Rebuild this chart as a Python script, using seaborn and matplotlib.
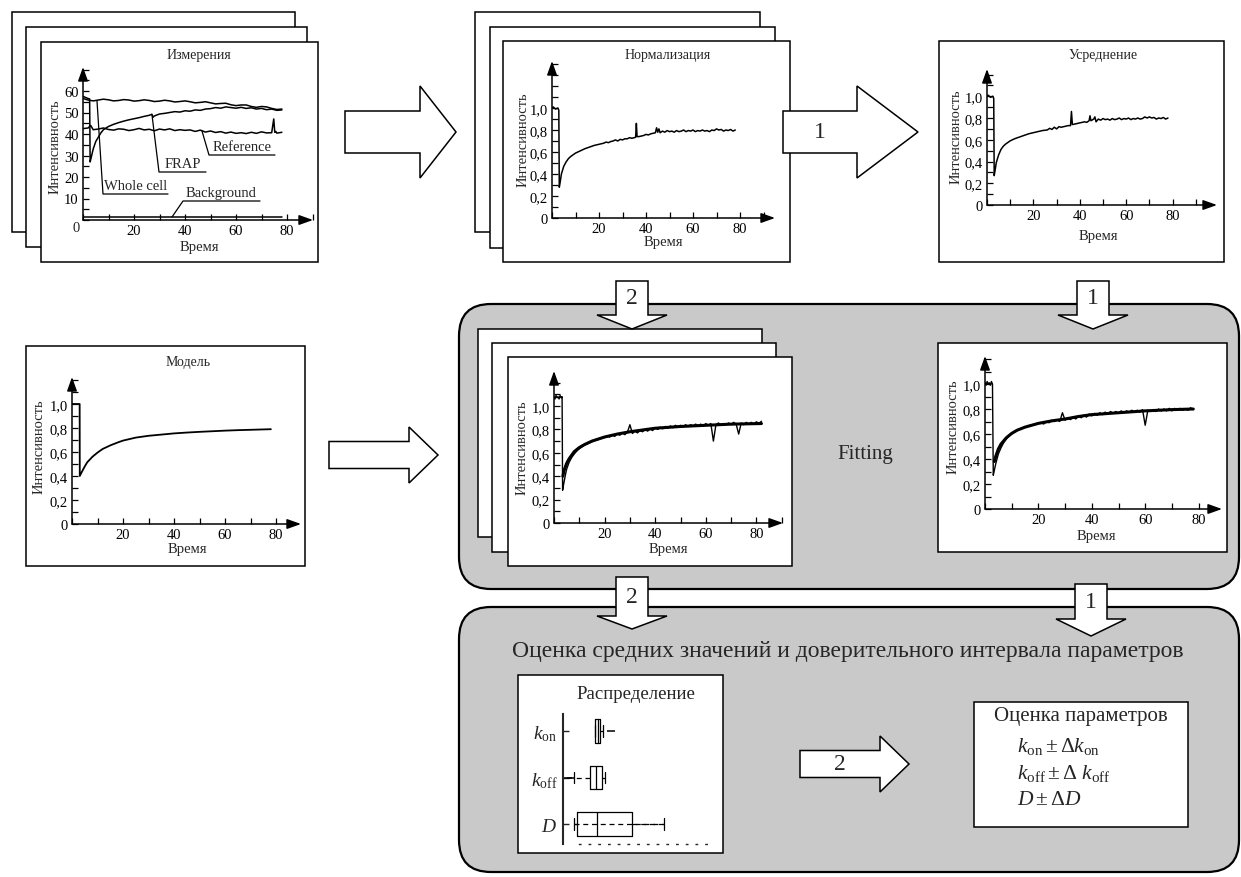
import numpy as np
import pandas as pd
import matplotlib
matplotlib.use("Agg")
import matplotlib.pyplot as plt
import seaborn as sns
from matplotlib.patches import Rectangle, FancyBboxPatch, Polygon
from matplotlib.ticker import FixedLocator, MultipleLocator, FuncFormatter
from matplotlib import cbook

W, H = 1241, 878
GRAY = "#c9c9c9"

# --- Измерения (сырые кривые) ---
wc_t = [0, 2, 4, 6, 8, 10, 12, 14, 16, 18, 20, 22, 24, 26, 28, 30, 32, 34, 36, 38,
        40, 42, 44, 46, 48, 50, 52, 54, 56, 58, 60, 62, 64, 66, 68, 70, 72, 74, 76, 78]
wc_v = [56.5, 55.8, 55.4, 55.8, 56.2, 55.9, 55.4, 55.6, 56.0, 55.8, 55.3, 55.5, 55.9, 55.6,
        55.1, 55.3, 55.7, 55.4, 54.9, 55.1, 55.4, 55.0, 54.5, 54.7, 55.0, 54.5, 54.0, 54.2,
        54.3, 53.6, 53.2, 53.5, 53.5, 52.8, 52.4, 52.8, 52.6, 51.9, 51.4, 51.6]
frap_t = [0, 1, 2, 2.6, 2.8, 3.2, 4, 5, 6, 7, 8, 10, 12, 14, 16, 18, 20, 22, 24, 26, 27,
          27.5, 28, 30, 32, 34, 36, 38, 40, 42, 44, 46, 48, 50, 52, 54, 56, 58, 60, 62,
          64, 66, 68, 70, 72, 74, 76, 78]
frap_v = [57.5, 57.0, 56.5, 56.3, 27.0, 29.0, 33.0, 36.5, 38.5, 40.5, 42.0, 43.5, 44.5,
          45.3, 46.0, 46.6, 47.1, 47.6, 48.2, 48.7, 49.2, 47.8, 48.4, 49.3, 49.6, 50.0,
          50.4, 50.2, 50.8, 50.6, 51.2, 51.0, 51.6, 51.8, 52.3, 52.0, 52.6, 52.3, 52.0,
          52.4, 51.9, 52.2, 51.6, 51.9, 51.3, 51.6, 51.0, 51.2]
ref_t = [0, 2, 3, 4, 6, 8, 10, 12, 14, 16, 18, 20, 22, 24, 26, 28, 30, 32, 34, 36, 38,
         40, 42, 44, 46, 48, 50, 52, 54, 56, 58, 60, 62, 64, 66, 68, 70, 72, 74, 74.8,
         75.2, 75.6, 76, 78]
ref_v = [42.5, 42.8, 44.0, 42.0, 42.3, 42.8, 42.1, 41.8, 42.4, 42.2, 41.6, 42.0, 42.6,
         41.9, 42.2, 41.5, 42.3, 41.9, 42.4, 41.6, 42.0, 41.7, 41.9, 41.2, 41.8, 40.9,
         41.4, 40.7, 41.1, 40.4, 40.9, 40.3, 40.6, 40.2, 40.8, 40.3, 41.0, 40.5, 40.6,
         47.0, 40.8, 41.2, 40.4, 40.8]
bgr_t = [0, 78]
bgr_v = [1.5, 1.5]

# --- Нормализация ---
norm_t = [0, 0.5, 1.5, 2.5, 2.9, 3.1, 3.5, 4, 5, 6, 7, 8, 9, 10, 12, 14, 16, 18, 20, 22,
          23, 24, 25, 26, 27, 28, 29, 30, 31, 32, 33, 34, 35, 35.6, 35.9, 36.2, 37, 38,
          39, 40, 41, 42, 43, 44, 44.5, 45, 45.5, 46, 47, 48, 49, 50, 51, 52, 53, 54, 55,
          56, 57, 58, 59, 60, 61, 62, 63, 64, 65, 66, 67, 68, 69, 70, 71, 72, 73, 74, 75,
          76, 77, 78]
norm_v = [1.00, 1.01, 0.99, 1.00, 0.98, 0.28, 0.33, 0.40, 0.47, 0.51, 0.54, 0.56, 0.575,
          0.59, 0.61, 0.63, 0.645, 0.66, 0.67, 0.68, 0.69, 0.685, 0.695, 0.70, 0.71, 0.70,
          0.715, 0.71, 0.72, 0.72, 0.73, 0.725, 0.73, 0.735, 0.86, 0.74, 0.74, 0.745,
          0.75, 0.76, 0.755, 0.765, 0.77, 0.775, 0.82, 0.78, 0.81, 0.775, 0.79, 0.78,
          0.795, 0.785, 0.79, 0.78, 0.795, 0.785, 0.79, 0.80, 0.785, 0.795, 0.79, 0.80,
          0.785, 0.795, 0.79, 0.80, 0.79, 0.795, 0.785, 0.80, 0.795, 0.81, 0.80, 0.805,
          0.79, 0.80, 0.795, 0.805, 0.79, 0.80]

# --- Усреднение ---
avg_t = [0, 0.5, 1.5, 2.5, 2.9, 3.1, 3.5, 4, 5, 6, 7, 8, 10, 12, 14, 16, 18, 20, 22, 24,
         26, 27, 28, 29, 30, 31, 32, 34, 35, 36, 36.4, 36.8, 38, 40, 42, 43, 44, 44.4,
         44.8, 46, 46.5, 47, 48, 49, 50, 51, 52, 53, 54, 55, 56, 57, 58, 59, 60, 61, 62,
         63, 64, 65, 66, 67, 68, 69, 70, 71, 72, 73, 74, 75, 76, 77, 78]
avg_v = [1.00, 1.01, 0.99, 1.00, 0.98, 0.27, 0.32, 0.39, 0.46, 0.51, 0.54, 0.56, 0.59,
         0.61, 0.625, 0.64, 0.655, 0.665, 0.675, 0.685, 0.69, 0.705, 0.695, 0.715, 0.70,
         0.72, 0.715, 0.725, 0.73, 0.73, 0.86, 0.74, 0.745, 0.755, 0.765, 0.76, 0.775,
         0.82, 0.775, 0.79, 0.81, 0.765, 0.79, 0.78, 0.795, 0.785, 0.79, 0.78, 0.795,
         0.785, 0.79, 0.80, 0.785, 0.795, 0.79, 0.80, 0.785, 0.795, 0.79, 0.80, 0.79,
         0.795, 0.81, 0.80, 0.81, 0.80, 0.805, 0.79, 0.80, 0.795, 0.805, 0.79, 0.80]

# --- Модель ---
model_t = [0, 3.0, 3.05, 4, 5, 6, 8, 10, 12, 15, 18, 20, 25, 30, 35, 40, 45, 50, 55, 60,
           65, 70, 78]
model_v = [1.0, 1.0, 0.40, 0.44, 0.48, 0.515, 0.56, 0.595, 0.625, 0.655, 0.68, 0.695,
           0.72, 0.735, 0.745, 0.755, 0.762, 0.768, 0.773, 0.778, 0.782, 0.785, 0.79]

# --- Fitting: серия экспериментов (слева) ---
fitL_data_t = [0, 0.4, 0.8, 1.2, 1.6, 2.0, 2.4, 2.8, 3.2, 3.4, 3.8, 4.5, 5, 6, 7, 8, 9,
               10, 11, 12, 13, 14, 15, 16, 17, 18, 19, 20] + list(range(21, 83))
fitL_data_v = [1.08, 1.06, 1.09, 1.07, 1.08, 1.06, 1.09, 1.07, 1.08, 0.28, 0.33, 0.41,
               0.46, 0.52, 0.56, 0.59, 0.615, 0.635, 0.65, 0.665, 0.675, 0.685, 0.695,
               0.705, 0.71, 0.72, 0.725, 0.735,
               0.745, 0.735, 0.755, 0.74, 0.765, 0.75, 0.77, 0.755, 0.775, 0.84, 0.765,
               0.785, 0.77, 0.79, 0.78, 0.80, 0.785, 0.805, 0.79, 0.815, 0.80, 0.82,
               0.805, 0.825, 0.81, 0.83, 0.815, 0.835, 0.82, 0.835, 0.82, 0.84, 0.825,
               0.84, 0.83, 0.845, 0.83, 0.845, 0.83, 0.85, 0.835, 0.85, 0.70, 0.84,
               0.855, 0.835, 0.85, 0.84, 0.855, 0.84, 0.86, 0.845, 0.76, 0.855, 0.84,
               0.86, 0.845, 0.86, 0.845, 0.865, 0.85, 0.87]
fitL_model_t = [3.5, 4, 5, 6, 8, 10, 12, 15, 20, 25, 30, 35, 40, 50, 60, 70, 82]
fitL_model_v = [0.40, 0.45, 0.51, 0.55, 0.61, 0.645, 0.67, 0.70, 0.735, 0.76, 0.78,
                0.795, 0.81, 0.825, 0.835, 0.845, 0.85]

# --- Fitting: усреднённая кривая (справа) ---
fitR_data_t = [0, 0.4, 0.8, 1.2, 1.6, 2.0, 2.4, 2.8, 3.1, 3.5, 4, 5, 6, 7, 8, 9, 10, 11,
               12, 13, 14, 15, 16, 17, 18, 19, 20] + list(range(21, 79))
fitR_data_v = [1.01, 0.99, 1.02, 1.0, 1.01, 0.99, 1.02, 1.0, 0.27, 0.31, 0.36, 0.44,
               0.49, 0.53, 0.56, 0.585, 0.60, 0.615, 0.63, 0.64, 0.65, 0.655, 0.665,
               0.67, 0.675, 0.68, 0.685,
               0.69, 0.68, 0.70, 0.69, 0.71, 0.70, 0.715, 0.70, 0.77, 0.71, 0.73, 0.715,
               0.735, 0.72, 0.745, 0.73, 0.75, 0.735, 0.76, 0.745, 0.765, 0.75, 0.77,
               0.755, 0.775, 0.76, 0.78, 0.765, 0.78, 0.765, 0.785, 0.77, 0.785, 0.775,
               0.79, 0.775, 0.79, 0.775, 0.795, 0.67, 0.79, 0.78, 0.795, 0.78, 0.80,
               0.785, 0.80, 0.785, 0.805, 0.785, 0.805, 0.79, 0.805, 0.79, 0.80, 0.79,
               0.81, 0.795]
fitR_model_t = [3.5, 4, 5, 6, 8, 10, 12, 15, 20, 25, 30, 35, 40, 50, 60, 70, 78]
fitR_model_v = [0.38, 0.42, 0.48, 0.52, 0.57, 0.605, 0.63, 0.655, 0.685, 0.705, 0.72,
                0.74, 0.755, 0.77, 0.785, 0.795, 0.80]

# --- Распределение параметров ---
param_labels = [r"$k_{\rm on}$", r"$k_{\rm off}$", r"$D$"]
kon_samples = [21.0, 21.0, 21.0, 22.0, 23.0, 23.8, 24.6, 26.3, 31.6]
koff_samples = [3.3, 5.5, 7.2, 17.8, 19.0, 20.5, 21.7, 23.0, 24.5, 25.7, 26.5, 27.0, 27.6]
d_samples = [7.2, 8.0, 9.2, 15.0, 22.4, 35.0, 45.4, 55.0, 66.4]

sns.set_style("white")
plt.rcParams["font.family"] = ["Liberation Serif", "DejaVu Serif"]
plt.rcParams["mathtext.fontset"] = "custom"
plt.rcParams["mathtext.rm"] = "Liberation Serif"
plt.rcParams["mathtext.it"] = "Liberation Serif:italic"
plt.rcParams["mathtext.bf"] = "Liberation Serif:bold"

fig = plt.figure(figsize=(W / 100, H / 100), dpi=100)
bg = fig.add_axes([0, 0, 1, 1], zorder=0)
fg = fig.add_axes([0, 0, 1, 1], zorder=10)
for a in (bg, fg):
    a.set_xlim(0, W)
    a.set_ylim(H, 0)
    a.axis("off")
fg.patch.set_alpha(0)


def frame(x0, y0, x1, y1, z=1):
    bg.add_patch(Rectangle((x0, y0), x1 - x0, y1 - y0, fc="white", ec="k", lw=1.1, zorder=z))


def rbox(x0, y0, x1, y1):
    bg.add_patch(FancyBboxPatch((x0, y0), x1 - x0, y1 - y0,
                                boxstyle="round,pad=0,rounding_size=32",
                                fc=GRAY, ec="k", lw=1.6, zorder=0.5))


def arrow_right(x0, x1, x2, yc, bh, hh, label=None, fs=17):
    pts = [(x0, yc - bh), (x1, yc - bh), (x1, yc - hh), (x2, yc),
           (x1, yc + hh), (x1, yc + bh), (x0, yc + bh)]
    bg.add_patch(Polygon(pts, closed=True, fc="white", ec="k", lw=1.1, zorder=3))
    if label:
        fg.text((x0 + x1) / 2, yc, label, ha="center", va="center", fontsize=fs)


def arrow_down(xc, y0, y1, y2, bw, hw, label=None, fs=17):
    pts = [(xc - bw, y0), (xc - bw, y1), (xc - hw, y1), (xc, y2),
           (xc + hw, y1), (xc + bw, y1), (xc + bw, y0)]
    bg.add_patch(Polygon(pts, closed=True, fc="white", ec="k", lw=1.1, zorder=3))
    if label:
        fg.text(xc, (y0 + y1) / 2, label, ha="center", va="center", fontsize=fs)


def mini(ox, oy, tx, ty, sx, sy, yticks, yminor, zero=True):
    ax = fig.add_axes([ox / W, 1 - oy / H, (tx - ox) / W, (oy - ty) / H], zorder=2)
    ax.patch.set_alpha(0)
    ax.set_xlim(0, (tx - ox) / sx)
    ax.set_ylim(0, (oy - ty) / sy)
    for s in ax.spines.values():
        s.set_visible(False)
    ap = dict(arrowstyle="-|>,head_length=0.7,head_width=0.25", color="k", lw=1.1,
              shrinkA=0, shrinkB=0, mutation_scale=12)
    ax.annotate("", xy=(1.0, 0), xytext=(0, 0), xycoords="axes fraction", arrowprops=ap)
    ax.annotate("", xy=(0, 1.0), xytext=(0, 0), xycoords="axes fraction", arrowprops=ap)
    ax.xaxis.set_major_locator(FixedLocator([0, 20, 40, 60, 80]))
    ax.xaxis.set_minor_locator(MultipleLocator(10))
    ax.yaxis.set_major_locator(FixedLocator(yticks))
    ax.yaxis.set_minor_locator(MultipleLocator(yminor))
    ax.xaxis.set_major_formatter(FuncFormatter(lambda v, p: "" if abs(v) < 1e-9 else f"{v:.0f}"))
    if yticks[-1] > 5:
        ax.yaxis.set_major_formatter(FuncFormatter(
            lambda v, p: ("0" if zero else "") if abs(v) < 1e-9 else f"{v:.0f}"))
    else:
        ax.yaxis.set_major_formatter(FuncFormatter(
            lambda v, p: "0" if abs(v) < 1e-9 else f"{v:.1f}".replace(".", ",")))
    ax.tick_params(which="both", direction="in", length=4, width=0.9, labelsize=10.5,
                   pad=3, colors="k", bottom=True, left=True)
    ax.set_xlabel("")
    ax.set_ylabel("")
    return ax


def curve(ax, t, v, lw=1.1):
    sns.lineplot(x=t, y=v, estimator=None, sort=False, color="k", linewidth=lw, ax=ax)
    ax.set_xlabel("")
    ax.set_ylabel("")


norm_ticks = [0, 0.2, 0.4, 0.6, 0.8, 1.0]

# ---------------- фоновые рамки ----------------
rbox(459, 305, 1239, 590)
rbox(459, 608, 1239, 873)

frame(12, 13, 295, 233, 1.0)
frame(26, 28, 307, 248, 1.1)
frame(41, 43, 318, 263, 1.2)
frame(475, 13, 760, 233, 1.0)
frame(490, 28, 775, 249, 1.1)
frame(503, 42, 790, 263, 1.2)
frame(939, 42, 1224, 263)
frame(26, 347, 305, 567)
frame(478, 330, 762, 538, 1.0)
frame(492, 344, 776, 553, 1.1)
frame(508, 358, 792, 567, 1.2)
frame(938, 344, 1227, 553)
frame(518, 676, 723, 854)
frame(974, 703, 1188, 828)

# ---------------- стрелки ----------------
arrow_right(345, 420, 456, 133, 21, 46)
arrow_right(783, 857, 918, 133, 21, 46, "1")
arrow_down(632, 282, 316, 330, 16, 35, "2")
arrow_down(1093, 282, 316, 330, 16, 35, "1")
arrow_right(329, 409, 438, 456, 13.5, 28)
arrow_down(632, 578, 617, 630, 16, 35, "2")
arrow_down(1091, 585, 620, 637, 16, 35, "1")
arrow_right(800, 880, 909, 765, 13.5, 28, "2")

# ---------------- мини-графики ----------------
ax1 = mini(83, 221, 313, 68, 2.55, 2.15, [0, 10, 20, 30, 40, 50, 60], 5, zero=False)
curve(ax1, wc_t, wc_v)
curve(ax1, frap_t, frap_v)
curve(ax1, ref_t, ref_v)
curve(ax1, bgr_t, bgr_v)
fg.text(76, 229, "0", ha="center", va="center", fontsize=10.5)

ax2 = mini(552, 219, 775, 62, 2.35, 110, norm_ticks, 0.1)
curve(ax2, norm_t, norm_v)

ax3 = mini(987, 206, 1217, 70, 2.32, 108.75, norm_ticks, 0.1)
curve(ax3, avg_t, avg_v)

ax4 = mini(72, 525, 301, 378, 2.55, 120, norm_ticks, 0.1)
curve(ax4, model_t, model_v, lw=1.3)

ax5 = mini(554, 524, 783, 372, 2.53, 117, norm_ticks, 0.1)
curve(ax5, fitL_data_t, fitL_data_v, lw=1.0)
curve(ax5, fitL_model_t, fitL_model_v, lw=2.2)

ax6 = mini(985, 510, 1222, 357, 2.67, 125, norm_ticks, 0.1)
curve(ax6, fitR_data_t, fitR_data_v, lw=1.0)
curve(ax6, fitR_model_t, fitR_model_v, lw=2.2)

# подписи мини-графиков
for x, y, s in [(199, 55, "Измерения"), (668, 55, "Нормализация"),
                (1103, 56, "Усреднение"), (188, 363, "Модель")]:
    fg.text(x, y, s, ha="center", va="center", fontsize=10)
for x, y in [(199, 248), (663, 243), (1098, 237), (187, 550), (668, 550), (1096, 537)]:
    fg.text(x, y, "Время", ha="center", va="center", fontsize=10.5)
for x, y in [(55, 147), (523, 140), (956, 137), (39, 447), (522, 448), (953, 427)]:
    fg.text(x, y, "Интенсивность", ha="center", va="center", fontsize=10.5, rotation=90)

# выноски на графике измерений
for (lx0, ly0, lx1, ly1, ux1, txt) in [(97, 102, 103, 195, 168, "Whole cell"),
                                       (152, 116, 159, 173, 206, "FRAP"),
                                       (202, 132, 209, 156, 275, "Reference"),
                                       (172, 218, 183, 202, 260, "Background")]:
    fg.plot([lx0, lx1, ux1], [ly0, ly1, ly1], color="k", lw=0.9)
    fg.text((lx1 + ux1) / 2, ly1 - 2, txt, ha="center", va="bottom", fontsize=10.5)

fg.text(865, 455, "Fitting", ha="center", va="center", fontsize=15)
fg.text(848, 652, "Оценка средних значений и доверительного интервала параметров",
        ha="center", va="center", fontsize=17)

# ---------------- распределение ----------------
fg.text(636, 695, "Распределение", ha="center", va="center", fontsize=13.5)
samples = [kon_samples, koff_samples, d_samples]
df = pd.DataFrame({
    "param": sum([[lab] * len(s) for lab, s in zip(param_labels, samples)], []),
    "value": sum(samples, []),
})
axd = fig.add_axes([563 / W, 1 - 845 / H, (715 - 563) / W, (845 - 715) / H], zorder=3)
axd.patch.set_alpha(0)
# штриховая линия усов проходит через широкий ящик D
st = cbook.boxplot_stats(np.array(d_samples), whis=1.5)[0]
axd.hlines(2, st["whislo"], st["whishi"], colors="k", linestyles=(0, (4, 3)), lw=0.9)
sns.boxplot(data=df, x="value", y="param", orient="h", fill=False, color="k",
            linewidth=0.9, width=0.5, whis=1.5,
            whiskerprops={"linestyle": (0, (4, 3))},
            flierprops={"marker": "_", "markersize": 6, "markeredgewidth": 1.1},
            ax=axd)
axd.set_xlim(0, 100)
axd.set_ylim(2.43, -0.366)
axd.set_xlabel("")
axd.set_ylabel("")
axd.set_xticks([])
axd.set_yticks([0, 1, 2])
axd.set_yticklabels(param_labels, fontsize=14)
axd.tick_params(axis="y", direction="in", length=4, width=1, pad=4, left=True)
axd.spines["top"].set_visible(False)
axd.spines["right"].set_visible(False)
axd.spines["left"].set_linewidth(1.5)
axd.spines["bottom"].set_linestyle((0, (1, 6)))
axd.spines["bottom"].set_linewidth(1.0)
axd.spines["bottom"].set_bounds(10.5, 95.4)

# ---------------- оценка параметров ----------------
fg.text(1081, 717, "Оценка параметров", ha="center", va="center", fontsize=15)
fg.text(1017, 747, r"$k_{\rm on} \pm \Delta k_{\rm on}$", ha="left", va="center", fontsize=15.5)
fg.text(1017, 774, r"$k_{\rm off} \pm \Delta\ k_{\rm off}$", ha="left", va="center", fontsize=15.5)
fg.text(1017, 801, r"$D \pm \Delta D$", ha="left", va="center", fontsize=15.5)

fig.savefig("out.png", dpi=100)
